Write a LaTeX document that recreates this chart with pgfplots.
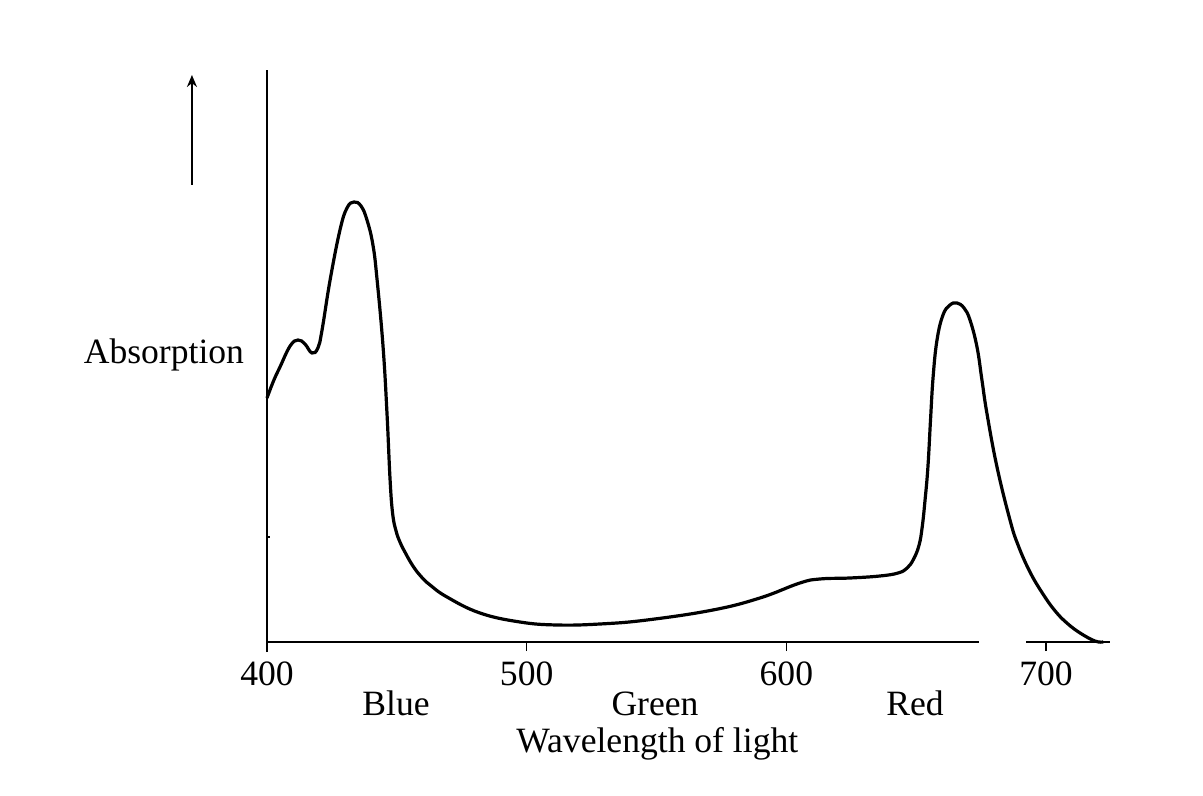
\documentclass[border=0pt]{standalone}
\usepackage{fontspec}
\setmainfont{Liberation Serif}
\usepackage{pgfplots}
\pgfplotsset{compat=1.18}
\usetikzlibrary{arrows.meta}
\pgfplotstableread{
lam y
400.0 244
402.5 261
405.0 275
408.9 296
411.9 302
414.6 298
417.3 289
419.6 294
421.2 312
424.3 362
428.1 412
430.8 434
433.5 440
436.2 436
438.5 422
440.8 397
442.4 362
444.7 295
446.2 229
447.4 162
448.4 128
449.7 111
451.2 100
453.1 90
456.2 76
459.5 65
462.8 57
469.3 45
482.0 29
497.4 20
511.7 17
528.2 18
546.3 22
571.7 32
589.8 44
605.2 59
612.9 63
624.5 64
636.0 66
643.0 69
646.5 74
649.0 83
651.1 97
652.3 115
653.4 142
654.5 175
655.5 222
656.5 265
658.0 302
660.3 327
663.0 337
665.7 339
668.4 334
670.7 322
673.4 295
675.3 262
677.2 229
681.1 175
686.1 122
689.2 97
693.8 70
698.8 48
703.5 31
708.0 19
713.1 9
718.8 1
722.0 0
}\spectrum
\begin{document}
\begin{tikzpicture}
\useasboundingbox (0,0) rectangle (601.5bp,398bp);
\begin{axis}[
  at={(133.5bp,77bp)}, anchor=south west,
  scale only axis, width=422bp, height=286bp,
  xmin=400, xmax=725, ymin=0, ymax=572,
  axis line style={draw=none},
  clip=false,
  xtick={400,500,600,700},
  ytick=\empty,
  tick align=outside,
  major tick length=4.5bp,
  every tick/.style={black, line width=0.8bp},
  xtick pos=bottom,
  /pgf/number format/assume math mode=true,
  xticklabel style={font=\fontsize{17.8bp}{20bp}\selectfont, anchor=base, yshift=-17bp},
  font=\fontsize{17.8bp}{20bp}\selectfont,
]
\draw[line width=1bp] (axis cs:400,-10) -- (axis cs:400,572);
\draw[line width=1bp] (axis cs:400,0) -- (axis cs:674.2,0);
\draw[line width=1bp] (axis cs:692.3,0) -- (axis cs:724.6,0);
\draw[line width=0.8bp] (axis cs:400,105) -- (axis cs:401.3,105);
\addplot[black, line width=1.6bp, smooth, tension=0.7] table[x=lam, y=y] {\spectrum};
\draw[line width=1bp, -{Stealth[length=6bp,width=5bp]}] (axis cs:371.1,457) -- (axis cs:371.1,567);
\node[anchor=base] at (axis cs:360.3,278) {Absorption};
\node[anchor=base] at (axis cs:449.7,-73) {Blue};
\node[anchor=base] at (axis cs:549.4,-73) {Green};
\node[anchor=base] at (axis cs:649.5,-73) {Red};
\node[anchor=base] at (axis cs:550.3,-110) {Wavelength of light};
\end{axis}
\end{tikzpicture}
\end{document}
